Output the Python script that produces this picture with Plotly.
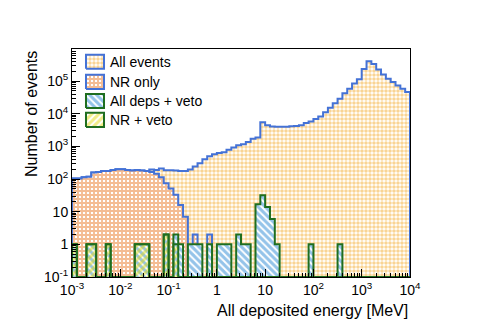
import numpy as np
import plotly.graph_objects as go

# 10 log bins per decade from 1 keV to 10 GeV
bin_edges = np.logspace(-3, 4, 71)

all_events = [
    103, 103, 113, 118, 158, 165, 177, 177, 190, 198,
    198, 190, 181, 190, 181, 177, 195, 190, 208, 185,
    185, 181, 177, 177, 195, 243, 305, 400, 495, 575,
    620, 655, 790, 920, 1080, 1150, 1350, 1700, 1870, 5500,
    4400, 4050, 3950, 3950, 4000, 4100, 4200, 4450, 5150, 5800,
    6900, 8200, 11000, 15200, 21000, 28500, 42000, 58000, 84000, 113000,
    232000, 400000, 330000, 224000, 158000, 118000, 94000, 73000, 58000, 46000,
]
nr_only = [
    103, 103, 113, 118, 158, 165, 177, 177, 190, 198,
    198, 190, 181, 190, 181, 177, 165, 146, 114, 74,
    51, 33, 16, 7, 0, 2, 0, 0, 2, 0,
] + [0] * 40
all_deps_veto = [
    1, 0, 0, 1, 1, 0, 0, 1, 0, 0,
    0, 0, 0, 1, 1, 1, 0, 0, 0, 2,
    0, 2, 1, 0, 1, 1, 1, 0, 1, 0,
    1, 1, 1, 0, 2, 1, 1, 0, 17, 32,
    14, 6, 1, 0, 0, 0, 0, 0, 0, 1,
    0, 0, 0, 0, 0, 1, 0, 0, 0, 0,
] + [0] * 10
nr_veto = [
    1, 0, 0, 1, 1, 0, 0, 1, 0, 0,
    0, 0, 0, 1, 1, 1, 0, 0, 0, 2,
    0, 1,
] + [0] * 48

x_ticks = [1e-3, 1e-2, 1e-1, 1, 10, 1e2, 1e3, 1e4]
x_ticktext = ['10<sup>-3</sup>', '10<sup>-2</sup>', '10<sup>-1</sup>', '1', '10',
              '10<sup>2</sup>', '10<sup>3</sup>', '10<sup>4</sup>']
y_ticks = [1e-1, 1, 10, 1e2, 1e3, 1e4, 1e5]
y_ticktext = ['10<sup>-1</sup>', '1', '10', '10<sup>2</sup>', '10<sup>3</sup>',
              '10<sup>4</sup>', '10<sup>5</sup>']

Y_FLOOR = 0.1
BLUE = '#4472d6'
GREEN = '#1f6e1f'
FONT = 'Liberation Sans, Arial, sans-serif'

hists = [
    ('All events', all_events, BLUE, dict(shape='.', fgcolor='#f3aa2a', bgcolor='white', size=4, solidity=0.62)),
    ('NR only', nr_only, BLUE, dict(shape='+', fgcolor='#e97a28', bgcolor='white', size=4, solidity=0.72)),
    ('All deps + veto', all_deps_veto, GREEN, dict(shape='\\', fgcolor='#2a88d4', bgcolor='white', size=5, solidity=0.62)),
    ('NR + veto', nr_veto, GREEN, dict(shape='/', fgcolor='#e3da12', bgcolor='rgba(0,0,0,0)', size=5, solidity=0.6)),
]


def step_xy(values):
    """ROOT-like histogram outline: zeros sit on the axis floor."""
    y = np.maximum(np.asarray(values, float), Y_FLOOR)
    xs = np.concatenate([[bin_edges[0]], bin_edges, [bin_edges[-1]]])
    ys = np.concatenate([[Y_FLOOR], y, [y[-1]], [Y_FLOOR]])
    return xs, ys


fig = go.Figure()

for name, vals, lc, pat in hists:
    xs, ys = step_xy(vals)
    fig.add_trace(go.Scatter(
        x=xs, y=ys, mode='lines', line_shape='hv', name=name,
        line=dict(color=lc, width=2), fill='tozeroy', fillpattern=pat,
        showlegend=False, hoverinfo='skip'
    ))

# Hand-made legend (ROOT style boxes) on an overlay axis
legend_rows = [0.944, 0.856, 0.772, 0.689]
for (name, vals, lc, pat), yc in zip(hists, legend_rows):
    x0, x1 = 0.0414, 0.0947
    y0, y1 = yc - 0.031, yc + 0.031
    fig.add_trace(go.Scatter(
        x=[x0, x1, x1, x0, x0], y=[y0, y0, y1, y1, y0], xaxis='x2', yaxis='y2',
        mode='lines', fill='toself', fillpattern=pat, line=dict(color=lc, width=2),
        showlegend=False, hoverinfo='skip'
    ))
    fig.add_annotation(x=0.1065, y=yc, xref='paper', yref='paper', text=name,
                       showarrow=False, xanchor='left', yanchor='middle',
                       font=dict(size=14, color='black', family=FONT))

# Axis titles, ROOT style (right / top aligned)
fig.add_annotation(x=1, y=0, xref='paper', yref='paper', yshift=-33,
                   text='All deposited energy [MeV]', showarrow=False,
                   xanchor='right', yanchor='middle', font=dict(size=16, family=FONT, color='black'))
fig.add_annotation(x=0, y=1, xref='paper', yref='paper', xshift=-41,
                   text='Number of events', textangle=-90, showarrow=False,
                   xanchor='center', yanchor='top', font=dict(size=16, family=FONT, color='black'))

x_minor = [m * 10.0 ** k for k in range(-3, 4) for m in range(2, 10)]
y_minor = [m * 10.0 ** k for k in range(-1, 6) for m in range(2, 10)]

# the page body adds an 8px offset, so margins are shifted to compensate
fig.update_layout(
    width=483, height=327,
    margin=dict(l=64, r=81, t=41, b=58),
    paper_bgcolor='white', plot_bgcolor='white',
    font=dict(family=FONT, size=14, color='black'),
    showlegend=False,
    xaxis=dict(
        type='log', range=[-3, 4], tickmode='array', tickvals=x_ticks, ticktext=x_ticktext,
        ticks='inside', ticklen=8, tickcolor='black', showgrid=False, zeroline=False,
        showline=True, linecolor='black', linewidth=1, mirror=True,
        minor=dict(tickmode='array', tickvals=x_minor, ticks='inside', ticklen=4,
                   tickcolor='black', showgrid=False),
        tickfont=dict(size=14),
    ),
    yaxis=dict(
        type='log', range=[-1, 5.98], tickmode='array', tickvals=y_ticks, ticktext=y_ticktext,
        ticks='inside', ticklen=8, tickcolor='black', showgrid=False, zeroline=False,
        showline=True, linecolor='black', linewidth=1, mirror=True,
        minor=dict(tickmode='array', tickvals=y_minor, ticks='inside', ticklen=4,
                   tickcolor='black', showgrid=False),
        tickfont=dict(size=14),
    ),
    xaxis2=dict(overlaying='x', range=[0, 1], visible=False, fixedrange=True),
    yaxis2=dict(overlaying='y', anchor='x2', range=[0, 1], visible=False, fixedrange=True),
)

fig.write_html("out.html")
